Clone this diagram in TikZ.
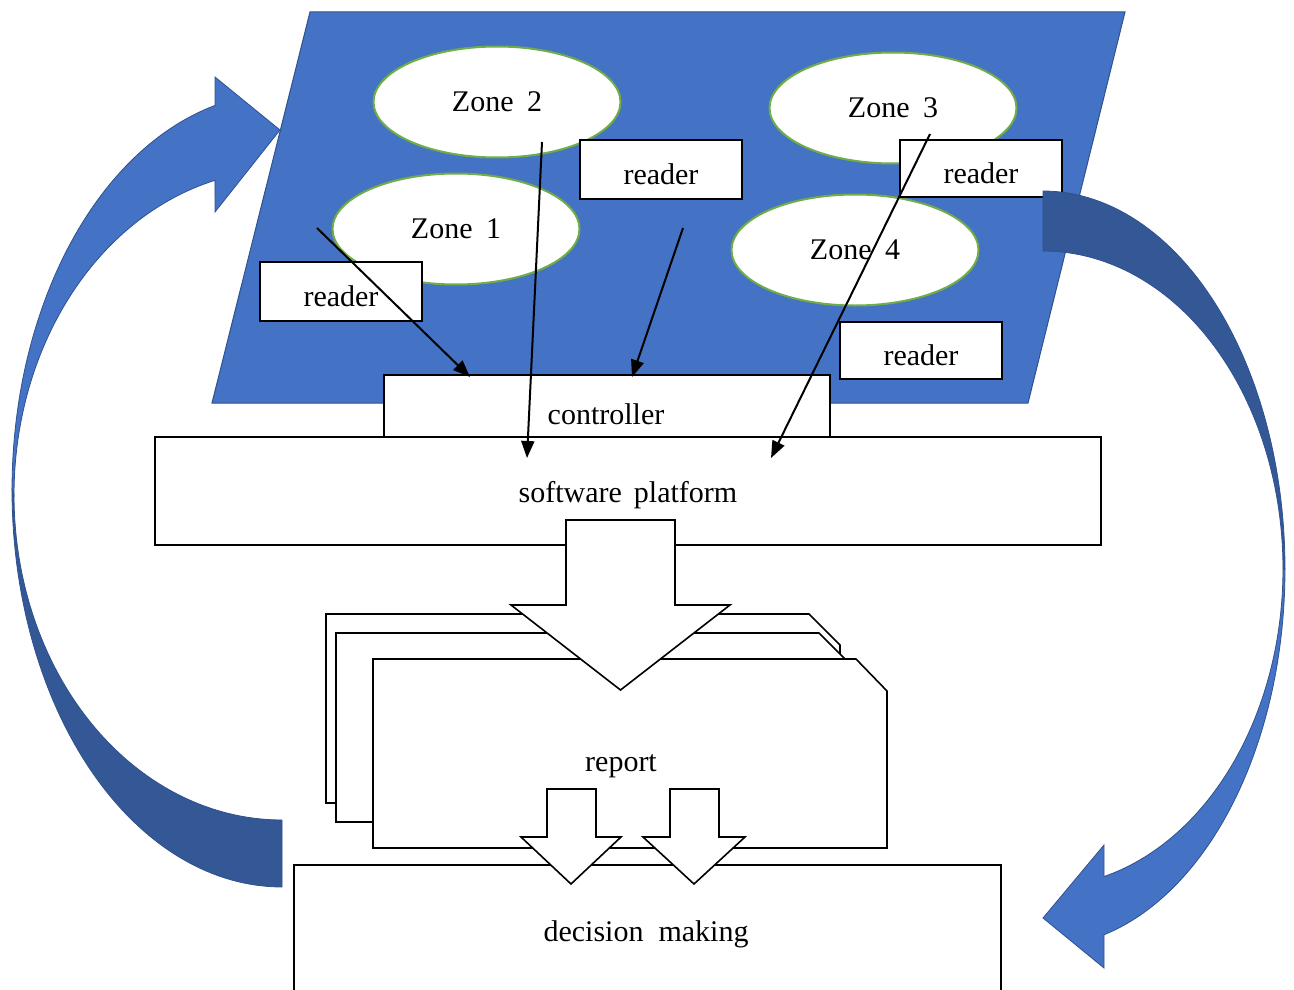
\documentclass[tikz,border=0pt]{standalone}
\usepackage{fontspec}
\setmainfont{Liberation Serif}
\usetikzlibrary{shapes.geometric,arrows.meta,calc}

\definecolor{panelblue}{HTML}{4472C4}
\definecolor{paneledge}{HTML}{2F528F}
\definecolor{shadeblue}{HTML}{345896}
\definecolor{zonegreen}{HTML}{70AD47}

\tikzset{
  txt/.style={font=\fontsize{30}{36}\selectfont, inner sep=0pt},
  zone/.style={ellipse, draw=zonegreen, line width=2pt, fill=white,
               minimum width=247pt, minimum height=111pt, inner sep=0pt,
               font=\fontsize{30}{36}\selectfont},
  readerbox/.style={rectangle, draw=black, line width=2pt, fill=white,
               minimum width=162pt, inner sep=0pt, text height=30.5pt, text depth=0pt,
               font=\fontsize{30}{36}\selectfont},
  plainbox/.style={rectangle, draw=black, line width=1.6pt, fill=white, inner sep=0pt},
  docshape/.style={draw=black, line width=1.6pt, fill=white},
  blockarrow/.style={draw=black, line width=1.6pt, fill=white, line join=miter},
  bandlight/.style={fill=panelblue, draw=paneledge, line width=0.8pt},
  banddark/.style={fill=shadeblue, draw=paneledge, line width=0.8pt},
  link/.style={draw=black, line width=2pt, -{Triangle[length=17pt,width=13pt]}}
}

\begin{document}
\begin{tikzpicture}[x=1pt,y=-1pt]
\clip (0,0) rectangle (1294,990);
\useasboundingbox (0,0) rectangle (1294,990);

% site plan panel
\fill[panelblue, draw=paneledge, line width=1pt]
  (310,12) -- (1125,12) -- (1028,403) -- (212,403) -- cycle;

% left curved feedback arrow (lower shaded half, then upper half with head)
\path[banddark]
  plot[domain=180:90, samples=60, variable=\t] ({282+270*cos(\t)},{490+397*sin(\t)})
  -- (282,820)
  -- plot[domain=90:180, samples=60, variable=\t] ({282+268*cos(\t)},{495+325*sin(\t)})
  -- cycle;
\path[bandlight]
  plot[domain=180:255.63, samples=60, variable=\t] ({282+270*cos(\t)},{490+397*sin(\t)})
  -- (215,77) -- (280,130) -- (215,212)
  -- plot[domain=255.52:180, samples=60, variable=\t] ({282+268*cos(\t)},{495+325*sin(\t)})
  -- cycle;

% zones
\node[zone] (z2) at (497,102) {Zone\hspace{0.45em}2};
\node[zone] (z3) at (893,108) {Zone\hspace{0.45em}3};
\node[zone] (z1) at (456,229) {Zone\hspace{0.45em}1};
\node[zone] (z4) at (855,250) {Zone\hspace{0.45em}4};

% readers
\node[readerbox, minimum height=59pt] (r1) at (341,291.5) {reader};
\node[readerbox, minimum height=59pt] (r2) at (661,169.5) {reader};
\node[readerbox, minimum height=57pt] (r3) at (981,168.5) {reader};
\node[readerbox, minimum height=57pt] (r4) at (921,350.5) {reader};

% right curved feedback arrow (upper shaded half, then lower half with head)
\path[banddark]
  plot[domain=270:360, samples=60, variable=\t] ({1043+242*cos(\t)},{569+378*sin(\t)})
  -- plot[domain=360:270, samples=60, variable=\t] ({1043+240*cos(\t)},{569+318*sin(\t)})
  -- cycle;
\path[bandlight]
  plot[domain=0:75.4, samples=60, variable=\t] ({1043+242*cos(\t)},{569+378*sin(\t)})
  -- (1104,968) -- (1043,918) -- (1104,845)
  -- plot[domain=75.27:0, samples=60, variable=\t] ({1043+240*cos(\t)},{569+318*sin(\t)})
  -- cycle;

% controller and software platform
\node[plainbox, minimum width=446pt, minimum height=62pt] (ctrl) at (607,406) {};
\node[txt] (ctrltxt) at (606,414) {controller};
\node[plainbox, minimum width=946pt, minimum height=108pt] (sw) at (628,491) {};
\node[txt] (swtxt) at (628,495) {software\hspace{0.4em}platform};

% stacked report documents
\path[docshape] (326,614) -- (809,614) -- (840,645) -- (840,803) -- (326,803) -- cycle;
\path[docshape] (336,633) -- (819,633) -- (850,664) -- (850,822) -- (336,822) -- cycle;
\path[docshape] (373,659) -- (856,659) -- (887,691) -- (887,848) -- (373,848) -- cycle;
\node[txt] (rep) at (621,766) {report};

% platform feeds the report
\path[blockarrow] (566,520) -- (675,520) -- (675,605) -- (730,605) -- (620.5,690)
  -- (511,605) -- (566,605) -- cycle;

% decision making
\node[plainbox, minimum width=707pt, minimum height=160pt] (dec) at (647.5,945) {};
\node[txt] (dectxt) at (646,934) {decision\hspace{0.5em}making};

% report feeds decisions
\path[blockarrow] (547,789) -- (596,789) -- (596,837) -- (621,837) -- (571,884)
  -- (521,837) -- (547,837) -- cycle;
\path[blockarrow] (670,789) -- (719,789) -- (719,837) -- (745,837) -- (694,884)
  -- (643,837) -- (670,837) -- cycle;

% reader links
\coordinate (a1s) at (317,228);
\coordinate (a1e) at (470,377);
\coordinate (a2s) at (542,142);
\coordinate (a2e) at (527,458);
\coordinate (a3s) at (683,228);
\coordinate (a3e) at (632,377);
\coordinate (a4s) at (930,134);
\coordinate (a4e) at (771,458);
\draw[link] (a1s) -- (a1e);
\draw[link] (a2s) -- (a2e);
\draw[link] (a3s) -- (a3e);
\draw[link] (a4s) -- (a4e);
\end{tikzpicture}
\end{document}
